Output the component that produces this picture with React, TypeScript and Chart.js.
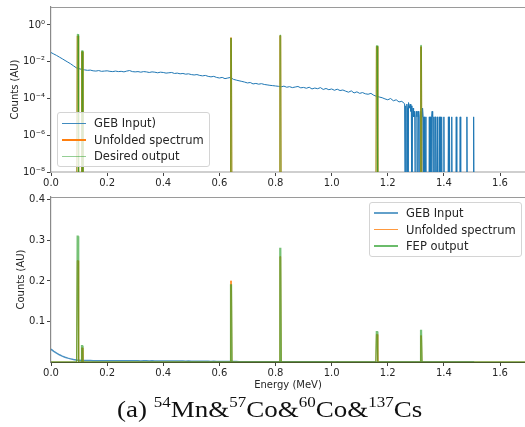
import React, { useEffect, useRef } from 'react';
import { Chart, registerables } from 'chart.js';

Chart.register(...registerables);

// ---------------- data ----------------
const X_MAX = 1.689;
const xTicks = [0, 0.2, 0.4, 0.6, 0.8, 1.0, 1.2, 1.4, 1.6];
const xTickLabels = ['0.0', '0.2', '0.4', '0.6', '0.8', '1.0', '1.2', '1.4', '1.6'];

const logTicks = [1e-8, 1e-6, 1e-4, 1e-2, 1];
const logTickLabels = ['10⁻⁸', '10⁻⁶', '10⁻⁴', '10⁻²', '10⁰'];
const LOG_MIN = 1e-8;
const LOG_MAX = 9.5;

const linTicks = [0.1, 0.2, 0.3, 0.4];
const linTickLabels = ['0.1', '0.2', '0.3', '0.4'];
const LIN_MAX = 0.407;

// GEB input spectrum, 0.01 MeV bins starting at 0.00 MeV
const gebBinWidth = 0.01;
const gebCounts = [
  0.0316, 0.0263, 0.0219, 0.0178, 0.0145, 0.0117, 0.0095, 0.0077, 0.0060, 0.0047,
  0.0042, 0.0038, 0.0036, 0.0034, 0.0035, 0.0032, 0.0031, 0.0033, 0.0030, 0.0031,
  0.0032, 0.0030, 0.0029, 0.0031, 0.0029, 0.0030, 0.0028, 0.0031, 0.0033, 0.0029,
  0.0028, 0.0029, 0.0027, 0.0029, 0.0028, 0.0026, 0.0028, 0.0027, 0.0025, 0.0027,
  0.0026, 0.0024, 0.0025, 0.0026, 0.0023, 0.0024, 0.0022, 0.0023, 0.0021, 0.0022,
  0.0020, 0.0019, 0.0020, 0.0018, 0.0017, 0.0018, 0.0016, 0.0015, 0.0016, 0.0014,
  0.0013, 0.0014, 0.0012, 0.0013, 0.0014, 0.0011, 0.0010, 0.00092, 0.00085, 0.00078,
  0.00070, 0.00074, 0.00062, 0.00066, 0.00060, 0.00064, 0.00058, 0.00055, 0.00052, 0.00050,
  0.00048, 0.00046, 0.00043, 0.00047, 0.00041, 0.00044, 0.00039, 0.00042, 0.00045, 0.00038,
  0.00040, 0.00036, 0.00041, 0.00033, 0.00037, 0.00034, 0.00039, 0.00031, 0.00035, 0.00030,
  0.00033, 0.00028, 0.00032, 0.00027, 0.00029, 0.00025, 0.00022, 0.00026, 0.00020, 0.00023,
  0.00019, 0.00021, 0.00018, 0.00017, 0.00019, 0.00015, 0.00013, 0.00012, 0.00011, 0.000095,
  0.000085, 0.00010, 0.000075, 0.000085, 0.000065, 0.000070, 0.000052,
];
// sparse high-energy tail of the GEB input
const gebTailEnergy = [
  1.262, 1.264, 1.266, 1.268, 1.270, 1.272, 1.274, 1.276, 1.278, 1.280,
  1.282, 1.284, 1.286, 1.288, 1.290, 1.292, 1.294, 1.296, 1.298, 1.300,
  1.302, 1.304, 1.306, 1.308, 1.310, 1.312, 1.314, 1.316, 1.318, 1.320,
  1.322, 1.324, 1.326, 1.328, 1.330, 1.332, 1.336, 1.338, 1.346, 1.348,
  1.350, 1.352, 1.354, 1.356, 1.358, 1.360, 1.362, 1.364, 1.366, 1.368,
  1.370, 1.372, 1.376, 1.378, 1.382, 1.384, 1.386, 1.388, 1.390, 1.392,
  1.394, 1.398, 1.400, 1.402, 1.414, 1.416, 1.418, 1.420, 1.422, 1.426,
  1.428, 1.430, 1.442, 1.444, 1.446, 1.456, 1.458, 1.460, 1.480, 1.482,
  1.484, 1.504, 1.506, 1.508,
];
const gebTailCounts = [
  0, 4e-5, 0, 5e-5, 3e-5, 0, 6e-5, 4e-5, 3e-5, 5e-5,
  2e-5, 4e-5, 0, 1e-5, 3e-5, 1e-5, 2e-5, 1e-5, 0, 1e-5,
  2e-5, 1e-5, 0, 2e-5, 1e-5, 0, 1e-5, 2e-5, 1e-5, 0,
  1e-5, 3e-5, 1e-5, 0, 1e-5, 0, 1e-5, 0, 0, 1e-5,
  0, 1e-5, 0, 1e-5, 2e-5, 1e-5, 0, 1e-5, 0, 1e-5,
  1e-5, 0, 1e-5, 0, 0, 1e-5, 0, 1e-5, 0, 1e-5,
  0, 0, 1e-5, 0, 0, 1e-5, 0, 1e-5, 0, 0,
  1e-5, 0, 0, 1e-5, 0, 0, 1e-5, 0, 0, 1e-5,
  0, 0, 1e-5, 0,
];

// full-energy peaks
const peakEnergy = [0.095, 0.1105, 0.6415, 0.817, 1.161, 1.3186];
const unfoldedPeak = [0.25, 0.035, 0.2, 0.26, 0.068, 0.065];
const fepPeak = [0.31, 0.04, 0.19, 0.28, 0.075, 0.078];
const PEAK_BASE_HALF = 0.0035;
const PEAK_TOP_HALF = 0.0015;

const topLegendLabels = ['GEB Input)', 'Unfolded spectrum', 'Desired output'];
const bottomLegendLabels = ['GEB Input', 'Unfolded spectrum', 'FEP output'];

// ---------------- helpers ----------------
type Pt = { x: number; y: number };

const gebPoints: Pt[] = [
  ...gebCounts.map((c, i) => ({ x: i * gebBinWidth, y: c })),
  ...gebTailEnergy.map((e, i) => ({ x: e, y: gebTailCounts[i] })),
];

function peakPoints(h: number[]): Pt[] {
  const pts: Pt[] = [{ x: 0, y: 0 }];
  peakEnergy.forEach((e, i) => {
    pts.push(
      { x: e - PEAK_BASE_HALF, y: 0 },
      { x: e - PEAK_TOP_HALF, y: h[i] },
      { x: e + PEAK_TOP_HALF, y: h[i] },
      { x: e + PEAK_BASE_HALF, y: 0 },
    );
  });
  pts.push({ x: X_MAX, y: 0 });
  return pts;
}

const LOG_FLOOR = 1e-12;
const toLog = (pts: Pt[]) => pts.map((p) => ({ x: p.x, y: p.y > 0 ? p.y : LOG_FLOOR }));

const FONT = '"DejaVu Sans", sans-serif';
const TICK_COLOR = '#262626';

const framePlugin = {
  id: 'frameTop',
  afterDraw(chart: any) {
    const { ctx, chartArea: a } = chart;
    ctx.save();
    ctx.strokeStyle = '#9a9a9a';
    ctx.lineWidth = 1.2;
    ctx.beginPath();
    ctx.moveTo(a.left, a.top + 0.5);
    ctx.lineTo(a.right, a.top + 0.5);
    ctx.stroke();
    ctx.restore();
  },
};

function xScale(height: number, withTitle: boolean, borderColor: string, borderWidth: number) {
  return {
    type: 'linear',
    min: 0,
    max: X_MAX,
    afterBuildTicks: (s: any) => {
      s.ticks = xTicks.map((v) => ({ value: v }));
    },
    afterFit: (s: any) => {
      s.height = height;
      s.paddingLeft = 0;
      s.paddingRight = 0;
      s.paddingTop = 0;
      s.paddingBottom = 0;
    },
    ticks: {
      autoSkip: false,
      maxRotation: 0,
      padding: 1,
      color: TICK_COLOR,
      font: { family: FONT, size: 10 },
      callback: (v: number) => xTickLabels[xTicks.indexOf(v)] ?? '',
    },
    grid: { display: true, drawOnChartArea: false, drawTicks: true, tickLength: 4, color: '#444', lineWidth: 1 },
    border: { display: true, color: borderColor, width: borderWidth },
    title: {
      display: withTitle,
      text: 'Energy (MeV)',
      color: TICK_COLOR,
      font: { family: FONT, size: 10 },
      padding: { top: 0, bottom: 1 },
    },
  };
}

function yScaleBase(titlePad: number) {
  return {
    afterFit: (s: any) => {
      s.width = 51;
      s.paddingLeft = 0;
      s.paddingRight = 0;
      s.paddingTop = 0;
      s.paddingBottom = 0;
    },
    grid: { display: true, drawOnChartArea: false, drawTicks: true, tickLength: 4, color: '#444', lineWidth: 1 },
    border: { display: true, color: '#8a8a8a', width: 1.2 },
    title: {
      display: true,
      text: 'Counts (AU)',
      color: TICK_COLOR,
      font: { family: FONT, size: 10 },
      padding: { top: titlePad, bottom: 0 },
    },
  };
}

function baseOptions() {
  return {
    responsive: false,
    animation: false as const,
    devicePixelRatio: 1,
    events: [] as any[],
    layout: { padding: { top: 7, left: 0, right: 0, bottom: 0 } },
    plugins: { legend: { display: false }, tooltip: { enabled: false } },
    elements: { point: { radius: 0 }, line: { tension: 0 } },
  };
}

type LegendItem = { label: string; color: string; width: number };

function HtmlLegend({ left, top, items }: { left: number; top: number; items: LegendItem[] }) {
  return (
    <div
      style={{
        position: 'absolute',
        left,
        top,
        width: 153,
        height: 55,
        boxSizing: 'border-box',
        border: '1px solid #d4d4d4',
        borderRadius: 3,
        background: 'rgba(255,255,255,0.8)',
        fontFamily: FONT,
        fontSize: 11.5,
        color: '#262626',
      }}
    >
      {items.map((it, i) => (
        <div key={i} style={{ position: 'absolute', left: 0, top: 2 + i * 16.7, height: 16, width: 150 }}>
          <div
            style={{
              position: 'absolute',
              left: 4,
              width: 24,
              top: 8 - it.width / 2,
              height: it.width,
              background: it.color,
            }}
          />
          <div style={{ position: 'absolute', left: 36, top: 0, lineHeight: '16px', whiteSpace: 'nowrap' }}>{it.label}</div>
        </div>
      ))}
    </div>
  );
}

const supStyle: React.CSSProperties = { fontSize: 17, position: 'relative', top: -12 };

export default function App() {
  const topRef = useRef<HTMLCanvasElement>(null);
  const botRef = useRef<HTMLCanvasElement>(null);

  useEffect(() => {
    const topChart = new Chart(topRef.current as HTMLCanvasElement, {
      type: 'line',
      data: {
        datasets: [
          {
            label: topLegendLabels[2],
            data: toLog(peakPoints(fepPeak)),
            borderColor: 'rgba(44,160,44,0.6)',
            borderWidth: 1,
            order: 0,
          },
          {
            label: topLegendLabels[1],
            data: toLog(peakPoints(unfoldedPeak)),
            borderColor: '#ff7f0e',
            borderWidth: 1,
            order: 1,
          },
          {
            label: topLegendLabels[0],
            data: toLog(gebPoints),
            borderColor: '#1f77b4',
            borderWidth: 1,
            order: 2,
          },
        ],
      },
      options: {
        ...baseOptions(),
        scales: {
          x: xScale(20, false, '#cfcfcf', 2),
          y: {
            type: 'logarithmic',
            min: LOG_MIN,
            max: LOG_MAX,
            ...yScaleBase(9),
            afterBuildTicks: (s: any) => {
              s.ticks = logTicks.map((v) => ({ value: v, major: true }));
            },
            ticks: {
              padding: 2,
              color: TICK_COLOR,
              font: { family: FONT, size: 10 },
              callback: (v: number) => logTickLabels[logTicks.indexOf(v)] ?? '',
            },
          },
        },
      } as any,
      plugins: [framePlugin],
    });

    const botChart = new Chart(botRef.current as HTMLCanvasElement, {
      type: 'line',
      data: {
        datasets: [
          {
            label: bottomLegendLabels[2],
            data: peakPoints(fepPeak),
            borderColor: 'rgba(44,160,44,0.65)',
            borderWidth: 1.4,
            order: 0,
          },
          {
            label: bottomLegendLabels[1],
            data: peakPoints(unfoldedPeak),
            borderColor: 'rgba(255,127,14,0.85)',
            borderWidth: 1,
            order: 1,
          },
          {
            label: bottomLegendLabels[0],
            data: gebPoints,
            borderColor: 'rgba(31,119,180,0.8)',
            borderWidth: 1.5,
            order: 2,
          },
        ],
      },
      options: {
        ...baseOptions(),
        scales: {
          x: xScale(30, true, '#4a5a2a', 1),
          y: {
            type: 'linear',
            min: 0,
            max: LIN_MAX,
            ...yScaleBase(15),
            afterBuildTicks: (s: any) => {
              s.ticks = linTicks.map((v) => ({ value: v }));
            },
            ticks: {
              padding: 2,
              color: TICK_COLOR,
              font: { family: FONT, size: 10 },
              callback: (v: number) => linTickLabels[linTicks.indexOf(v)] ?? '',
            },
          },
        },
      } as any,
      plugins: [framePlugin],
    });

    return () => {
      topChart.destroy();
      botChart.destroy();
    };
  }, []);

  return (
    <div
      style={{
        position: 'absolute',
        left: 0,
        top: 0,
        width: 525,
        height: 427,
        overflow: 'hidden',
        background: '#fff',
      }}
    >
      <canvas ref={topRef} width={525} height={192} style={{ position: 'absolute', left: 0, top: 0, width: 525, height: 192 }} />
      <canvas ref={botRef} width={525} height={202} style={{ position: 'absolute', left: 0, top: 190, width: 525, height: 202 }} />
      <HtmlLegend
        left={57}
        top={112}
        items={[
          { label: topLegendLabels[0], color: 'rgba(31,119,180,0.85)', width: 1 },
          { label: topLegendLabels[1], color: '#ff7f0e', width: 2 },
          { label: topLegendLabels[2], color: 'rgba(44,160,44,0.5)', width: 1 },
        ]}
      />
      <HtmlLegend
        left={369}
        top={202}
        items={[
          { label: bottomLegendLabels[0], color: 'rgba(31,119,180,0.7)', width: 2 },
          { label: bottomLegendLabels[1], color: 'rgba(255,127,14,0.8)', width: 1 },
          { label: bottomLegendLabels[2], color: 'rgba(44,160,44,0.7)', width: 2 },
        ]}
      />
      <div
        style={{
          position: 'absolute',
          left: 117,
          top: 394,
          height: 27,
          fontFamily: '"Liberation Serif", "Times New Roman", serif',
          fontSize: 27,
          lineHeight: '27px',
          whiteSpace: 'nowrap',
          color: '#111',
          transform: 'scaleY(0.85)',
          transformOrigin: 'left bottom',
        }}
      >
        (a) <span style={supStyle}>54</span>Mn{'&'}<span style={supStyle}>57</span>Co{'&'}
        <span style={supStyle}>60</span>Co{'&'}<span style={supStyle}>137</span>Cs
      </div>
    </div>
  );
}
